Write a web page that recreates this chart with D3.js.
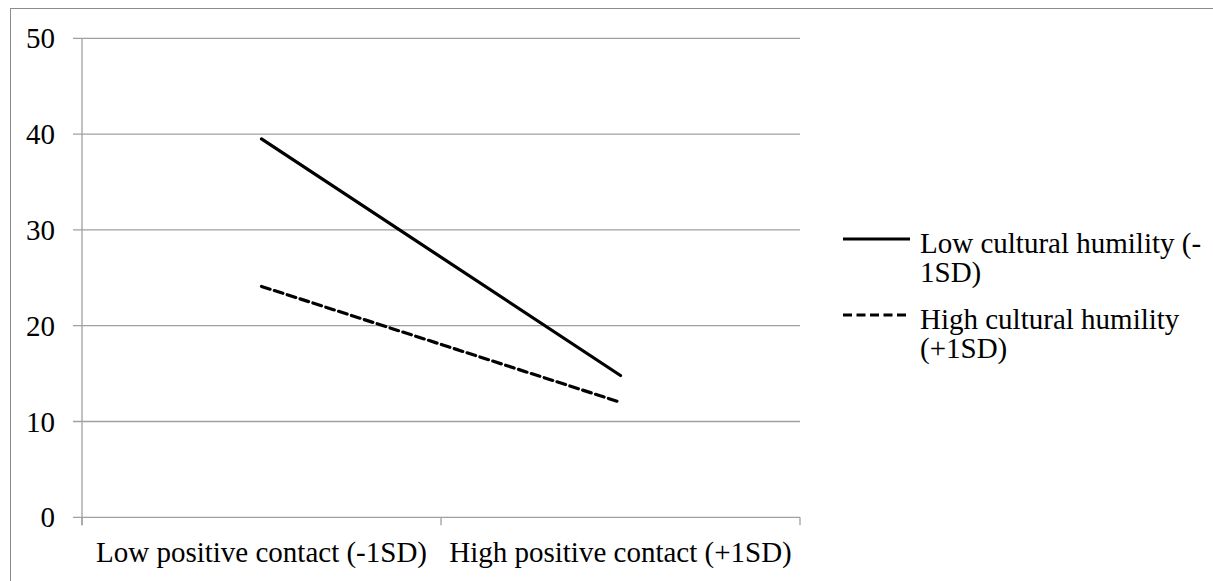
<!DOCTYPE html>
<html><head><meta charset="utf-8">
<script src="https://cdn.jsdelivr.net/npm/d3@7"></script>
<style>body{margin:0;background:#fff}svg{display:block}</style>
</head><body>
<svg id="c" width="1213" height="581"></svg>
<script>
const categories = ["Low positive contact (-1SD)", "High positive contact (+1SD)"];
const seriesNames = ["Low cultural humility (-1SD)", "High cultural humility (+1SD)"];
const lowHumility = [39.5, 14.8];
const highHumility = [24.1, 12.0];
const yTicks = [0, 10, 20, 30, 40, 50];
const legendLines = [["Low cultural humility (-", "1SD)"], ["High cultural humility", "(+1SD)"]];

const FONT = '"Liberation Serif"';
const svg = d3.select("#c");
const W = 1213, H = 581;
const m = {left: 82, right: 800, top: 38.3, bottom: 517.3};
const fs = 29;

svg.append("rect").attr("x", 10.5).attr("y", 8.5).attr("width", W + 10).attr("height", H + 10)
  .attr("fill", "none").attr("stroke", "#8c8c8c").attr("stroke-width", 1);

const x = d3.scaleBand().domain(categories).range([m.left, m.right]).padding(0);
const y = d3.scaleLinear().domain([0, 50]).range([m.bottom, m.top]);

const g = svg.append("g");
g.selectAll("line.grid").data(yTicks).join("line")
  .attr("x1", m.left - 9).attr("x2", m.right)
  .attr("y1", d => y(d)).attr("y2", d => y(d))
  .attr("stroke", "#a0a0a0").attr("stroke-width", 1.3);
g.append("line").attr("x1", m.left).attr("x2", m.left).attr("y1", m.top).attr("y2", m.bottom + 8)
  .attr("stroke", "#a0a0a0").attr("stroke-width", 1.3);
const xt = [m.left, ...categories.map(c => x(c) + x.bandwidth())];
g.selectAll("line.xt").data(xt).join("line")
  .attr("x1", d => d).attr("x2", d => d).attr("y1", m.bottom).attr("y2", m.bottom + 8)
  .attr("stroke", "#a0a0a0").attr("stroke-width", 1.3);

g.selectAll("text.yl").data(yTicks).join("text")
  .attr("x", 55).attr("y", d => y(d) + 10).attr("text-anchor", "end")
  .style("font-family", FONT).attr("font-size", fs).attr("fill", "#000").text(d => d);
g.selectAll("text.xl").data(categories).join("text")
  .attr("x", d => x(d) + x.bandwidth() / 2).attr("y", 562).attr("text-anchor", "middle")
  .style("font-family", FONT).attr("font-size", fs).attr("fill", "#000").text(d => d);

const line = d3.line().x((d, i) => x(categories[i]) + x.bandwidth() / 2).y(d => y(d));
const series = [
  {vals: lowHumility, dash: null},
  {vals: highHumility, dash: "9,4.5"}
];
svg.selectAll("path.s").data(series).join("path")
  .attr("d", d => line(d.vals)).attr("fill", "none").attr("stroke", "#000")
  .attr("stroke-width", 3.2).attr("stroke-linecap", "round")
  .attr("stroke-dasharray", d => d.dash);

const leg = svg.append("g");
const ly = [239, 315];
series.forEach((s, i) => {
  leg.append("line").attr("x1", 843).attr("x2", 910).attr("y1", ly[i]).attr("y2", ly[i])
    .attr("stroke", "#000").attr("stroke-width", 3.2).attr("stroke-dasharray", s.dash);
  const t = leg.append("text").attr("x", 920).attr("y", ly[i] + 14)
    .style("font-family", FONT).attr("font-size", fs).attr("fill", "#000");
  legendLines[i].forEach((l, j) => {
    t.append("tspan").attr("x", 920).attr("dy", j === 0 ? 0 : 29).text(l);
  });
});
</script>
</body></html>
